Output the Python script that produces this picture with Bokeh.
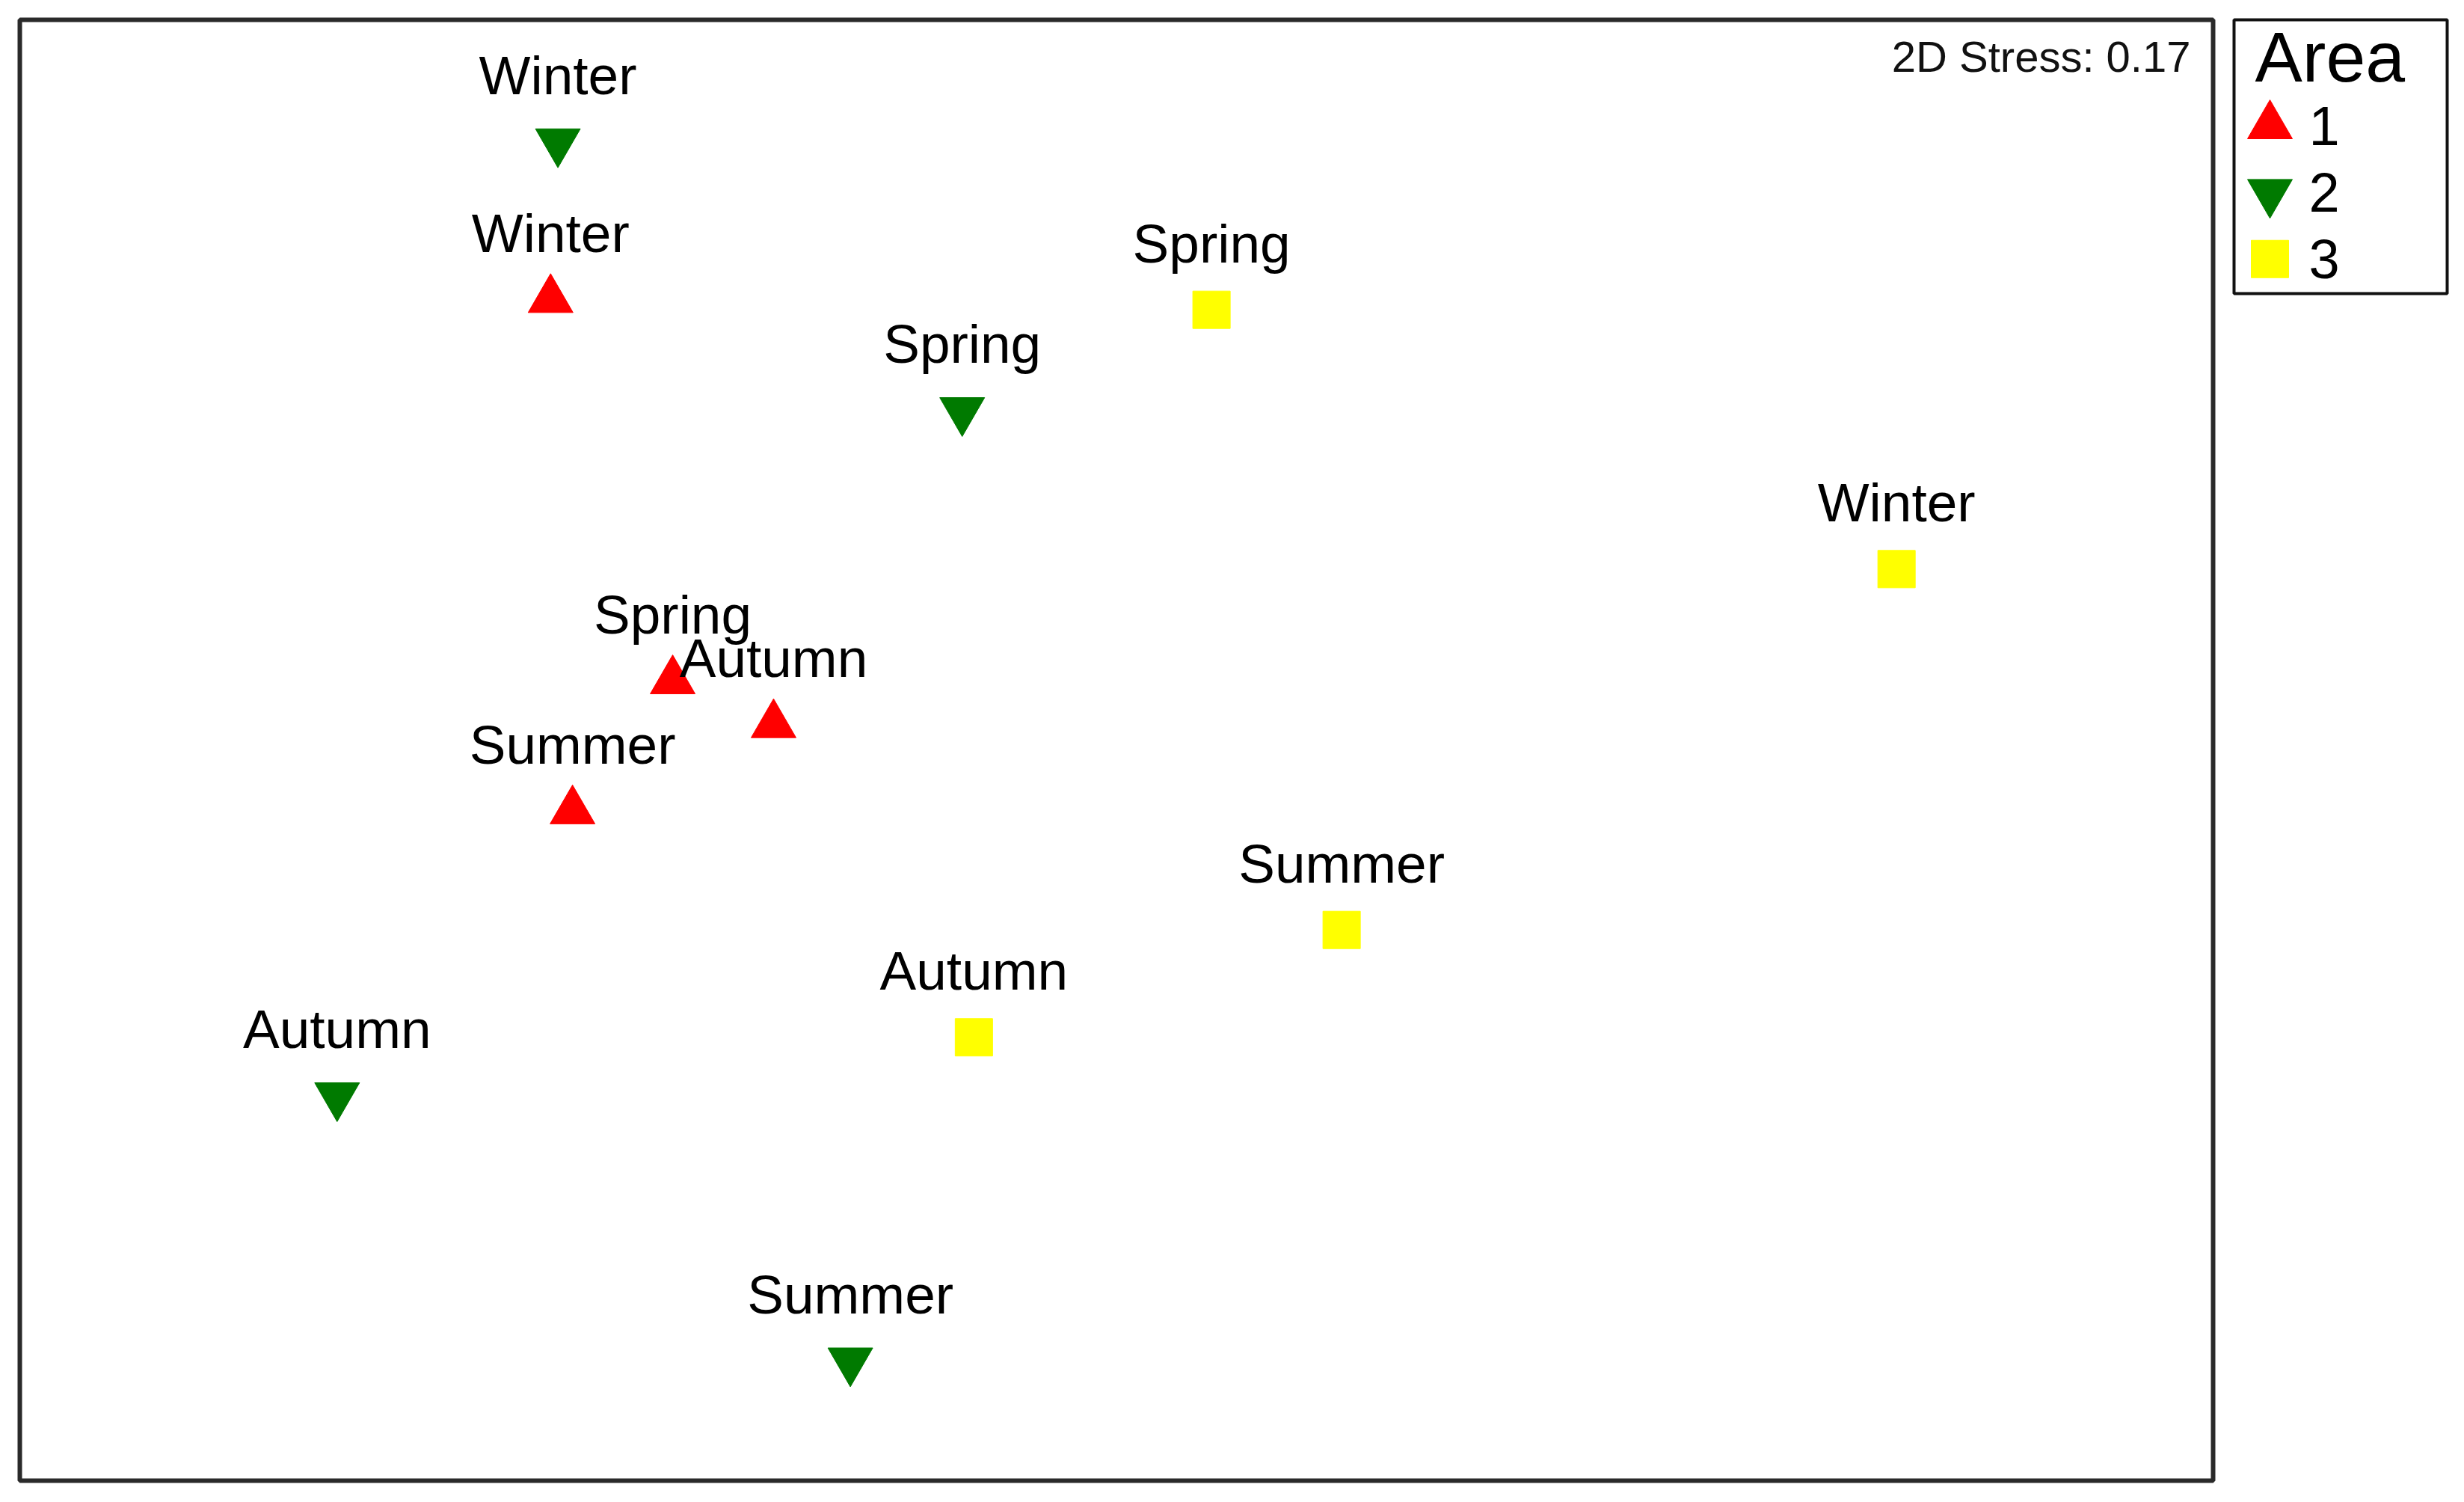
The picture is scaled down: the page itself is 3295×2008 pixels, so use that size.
from bokeh.plotting import figure
from bokeh.models import Range1d, ColumnDataSource, Label
from bokeh.layouts import row
from bokeh.core.properties import value
from bokeh.embed import file_html
from bokeh.resources import INLINE

# ---- data (NMDS ordination scores) ----
area_names = ["1", "2", "3"]
area_colors = ["#FF0000", "#007A00", "#FFFF00"]
area_markers = ["triangle", "inverted_triangle", "square"]
area_sizes = [60, 60, 50]

area1_season = ["Winter", "Spring", "Autumn", "Summer"]
area1_x = [-0.774, -0.607, -0.469, -0.744]
area1_y = [0.617, 0.095, 0.035, -0.083]

area2_season = ["Winter", "Spring", "Autumn", "Summer"]
area2_x = [-0.764, -0.211, -1.066, -0.364]
area2_y = [0.833, 0.465, -0.473, -0.836]

area3_season = ["Spring", "Winter", "Summer", "Autumn"]
area3_x = [0.130, 1.067, 0.308, -0.195]
area3_y = [0.603, 0.248, -0.246, -0.393]

stress_text = "2D Stress: 0.17"
legend_title = "Area"

FONT = "Liberation Sans"

# ---- main ordination plot ----
p = figure(width=2969, height=1989, output_backend="svg", toolbar_location=None,
           x_range=Range1d(-1.5, 1.5), y_range=Range1d(-1.0, 1.0),
           x_axis_location=None, y_axis_location=None,
           min_border_left=26, min_border_top=26, min_border_right=10, min_border_bottom=10)
p.xgrid.visible = False
p.ygrid.visible = False
p.outline_line_color = "#2a2a2a"
p.outline_line_width = 6
p.background_fill_color = "white"
p.border_fill_color = "white"

groups = [(area1_x, area1_y, area1_season), (area2_x, area2_y, area2_season), (area3_x, area3_y, area3_season)]
for (xs, ys, ss), col, mk, sz in zip(groups, area_colors, area_markers, area_sizes):
    src = ColumnDataSource(dict(x=xs, y=ys, season=ss))
    p.scatter("x", "y", source=src, marker=mk, size=sz, fill_color=col, line_color=col, line_width=1)
    p.text("x", "y", text="season", source=src, text_font=value(FONT), text_font_size="73px",
           text_color="black", text_align="center", text_baseline="alphabetic", y_offset=-89)

p.add_layout(Label(x=1.5, y=1.0, x_offset=-30, y_offset=-49, text=stress_text,
                   text_font=FONT, text_font_size="58px", text_color="#111111",
                   text_align="right", text_baseline="alphabetic"))

# ---- legend panel ----
LW, LH = 285, 372
lg = figure(width=18 + LW + 5, height=25 + LH + 5, output_backend="svg", toolbar_location=None,
            x_range=Range1d(0, LW), y_range=Range1d(LH, 0),
            x_axis_location=None, y_axis_location=None,
            min_border_left=18, min_border_top=25, min_border_right=5, min_border_bottom=5)
lg.xgrid.visible = False
lg.ygrid.visible = False
lg.outline_line_color = "#111111"
lg.outline_line_width = 4
lg.background_fill_color = "white"
lg.border_fill_color = "white"

row0, step = 144, 90.5
ly = [row0 + i * step for i in range(len(area_names))]
for i, (nm, col, mk, sz) in enumerate(zip(area_names, area_colors, area_markers, area_sizes)):
    lg.scatter([48], [ly[i]], marker=mk, size=sz, fill_color=col, line_color=col)
lg.text([100] * len(area_names), ly, text=area_names, text_font=value(FONT), text_font_size="74px",
        text_color="black", text_align="left", text_baseline="middle")
lg.text([28], [50], text=[legend_title], text_font=value(FONT), text_font_size="95px",
        text_color="black", text_align="left", text_baseline="alphabetic")

layout = row(p, lg)
open("out.html", "w").write(file_html(layout, INLINE))
